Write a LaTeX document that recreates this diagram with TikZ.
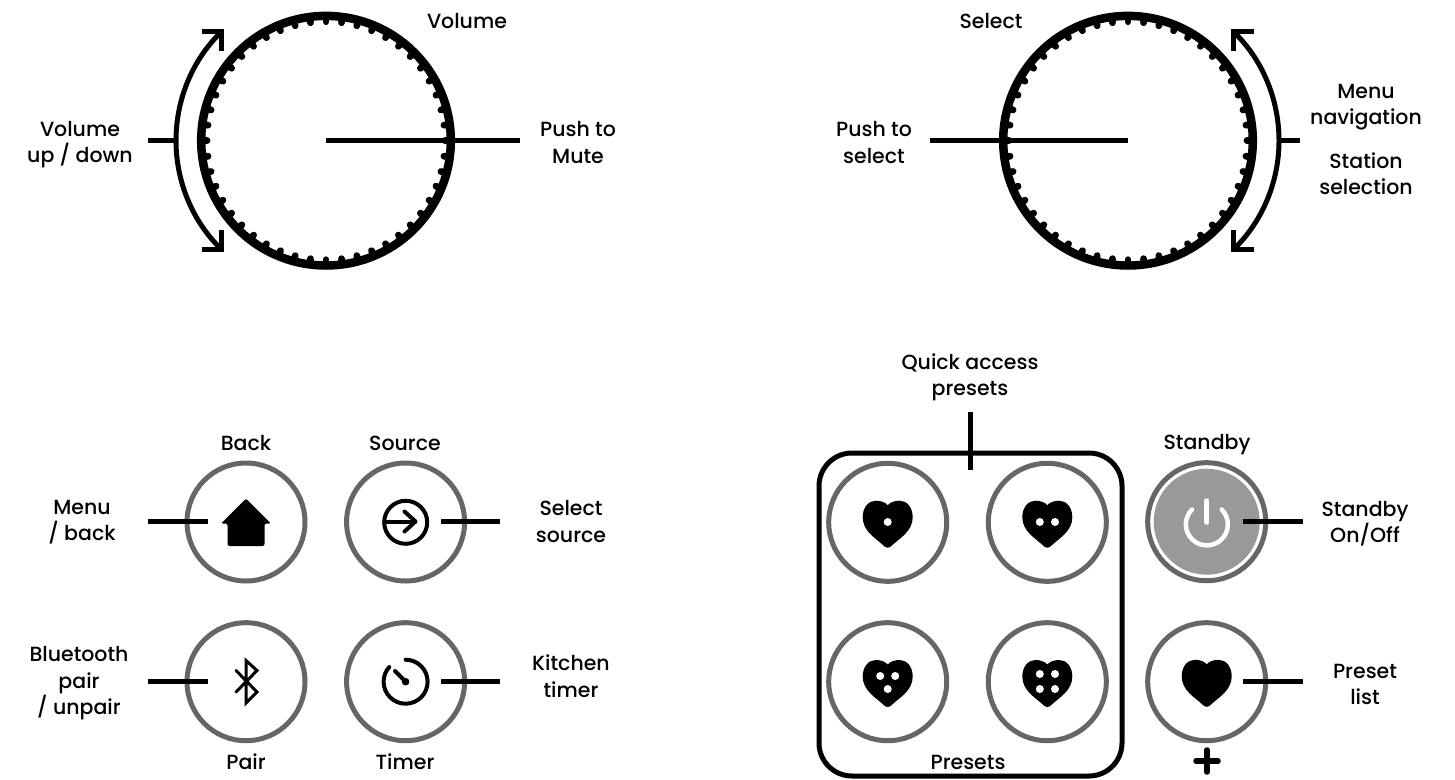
\documentclass[tikz,border=0pt]{standalone}
\usepackage{fontspec}
\setmainfont{Poppins Medium}
\definecolor{ringgray}{HTML}{666666}
\definecolor{fillgray}{HTML}{999999}
\tikzset{
  x=1pt,y=-1pt,
  lab/.style={align=center,inner sep=0pt,font=\fontsize{20.5}{26.5}\selectfont,text=black},
  lead/.style={line width=5pt,black},
  btn/.style={circle,draw=ringgray,line width=5pt,minimum size=118pt,inner sep=0pt},
  ringk/.style={line width=8.5pt,black},
  icon/.style={line width=4pt,black,line cap=round,line join=round},
  chev/.style={line width=5.5pt,black,miter limit=10},
  heartshape/.pic={\fill[black] (0,23.5)
    .. controls (-2,23.5) and (-3,22.5) .. (-4.5,21)
    .. controls (-12,14) and (-25,7) .. (-25,-7)
    .. controls (-25,-17) and (-19,-23.5) .. (-12,-23.5)
    .. controls (-7,-23.5) and (-2.5,-22) .. (0,-19)
    .. controls (2.5,-22) and (7,-23.5) .. (12,-23.5)
    .. controls (19,-23.5) and (25,-17) .. (25,-7)
    .. controls (25,7) and (12,14) .. (4.5,21)
    .. controls (3,22.5) and (2,23.5) .. (0,23.5) -- cycle;},
  hole/.style={circle,fill=white,minimum size=8pt,inner sep=0pt}
}
\newcommand{\dialring}[2]{%
  \draw[ringk] (#1,#2) circle[radius=124.8];
  \foreach \a in {0,7.5,...,352.5}
    \draw[black,line width=6.8pt,line cap=round] ({#1+122*cos(\a)},{#2+122*sin(\a)}) -- ({#1+119*cos(\a)},{#2+119*sin(\a)});
}
\begin{document}
\begin{tikzpicture}
\useasboundingbox (0,0) rectangle (1455,779);
\fill[white] (0,0) rectangle (1455,779);

% ---- dial left
\coordinate (volc) at (326,140.7);
\dialring{326}{140.7}
\coordinate (voltop) at (221.5,31.7);
\coordinate (volbot) at (221.5,249.5);
\coordinate (vs2) at (176,140.7);
\draw[line width=5pt,black] (voltop) .. controls (192,60) and (176,100) .. (vs2) .. controls (176,181) and (192,221) .. (volbot);
\draw[chev] (201.5,31.7) -- (voltop) -- (221.5,51);
\draw[chev] (201.5,249.5) -- (volbot) -- (221.5,230);
\coordinate (vs1) at (148,140.7);
\draw[lead] (vs1) -- (vs2);
\coordinate (ve) at (520,140.7);
\draw[lead] (volc) -- (ve);

% ---- dial right
\coordinate (selc) at (1128,140.7);
\dialring{1128}{140.7}
\coordinate (seltop) at (1233.5,31.7);
\coordinate (selbot) at (1233.5,249.5);
\coordinate (ss1) at (1279,140.7);
\draw[line width=5pt,black] (seltop) .. controls (1263,60) and (1279,100) .. (ss1) .. controls (1279,181) and (1263,221) .. (selbot);
\draw[chev] (1253.5,31.7) -- (seltop) -- (1233.5,51);
\draw[chev] (1253.5,249.5) -- (selbot) -- (1233.5,230);
\coordinate (ss2) at (1300,140.7);
\draw[lead] (ss1) -- (ss2);
\coordinate (se) at (930,140.7);
\draw[lead] (se) -- (selc);

% ---- left buttons
\node[btn] (back) at (246,522) {};
\node[btn] (source) at (405.6,522) {};
\node[btn] (pair) at (246,681.7) {};
\node[btn] (timer) at (405.6,681.7) {};

% home
\fill[black,rounded corners=2pt] (246,498.5) -- (271,523.5) -- (264.5,523.5) -- (264.5,546) -- (227.5,546) -- (227.5,523.5) -- (221,523.5) -- cycle;
% source icon
\draw[icon] (405.7,522.3) circle[radius=21.5];
\draw[icon] (384.5,521.5) -- (415,521.5);
\draw[icon] (404.5,511.5) -- (415.5,521.5) -- (404.5,531.5);
% bluetooth
\draw[line width=3pt,black,line join=miter,line cap=round] (236,670.5) -- (257,692) -- (246,703) -- (246,660.5) -- (257,670.5) -- (236,692);
% timer
\draw[icon] (405.6,659.7) arc[start angle=-90,end angle=222,radius=22];
\draw[icon] (405.6,681.7) -- (395,671);
\fill[black] (405.6,681.7) circle[radius=3.8];

% leads
\coordinate (l1) at (148,521); \coordinate (l1e) at (208,521);
\draw[lead] (l1) -- (l1e);
\coordinate (l2) at (441,521); \coordinate (l2e) at (500,521);
\draw[lead] (l2) -- (l2e);
\coordinate (l3) at (148,681); \coordinate (l3e) at (208,681);
\draw[lead] (l3) -- (l3e);
\coordinate (l4) at (441,681); \coordinate (l4e) at (500,681);
\draw[lead] (l4) -- (l4e);

% ---- preset box
\draw[line width=5pt,black,rounded corners=33pt] (819,453) rectangle (1122,776);
\node[btn] (p1) at (887.7,522.3) {};
\node[btn] (p2) at (1047.3,522.3) {};
\node[btn] (p3) at (887.7,681.7) {};
\node[btn] (p4) at (1047.3,681.7) {};
\pic at (887.7,524.2) {heartshape};
\pic at (1047.3,524.2) {heartshape};
\pic at (887.7,683.5) {heartshape};
\pic at (1047.3,683.5) {heartshape};
\node[hole] (h1) at (887.7,522) {};
\node[hole] (h2a) at (1039.8,522) {};
\node[hole] (h2b) at (1055,522) {};
\node[hole] (h3a) at (880.2,676) {};
\node[hole] (h3b) at (895.2,676) {};
\node[hole] (h3c) at (887.7,689) {};
\node[hole] (h4a) at (1039.8,674) {};
\node[hole] (h4b) at (1055,674) {};
\node[hole] (h4c) at (1039.8,689) {};
\node[hole] (h4d) at (1055,689) {};
\coordinate (q1) at (970.5,412); \coordinate (q2) at (970.5,470);
\draw[lead] (q1) -- (q2);

% ---- standby and preset list
\node[btn,fill=white] (standby) at (1206.7,521.7) {};
\fill[fillgray] (1206.7,521.7) circle[radius=53];
\draw[white,line width=4.5pt,line cap=round] (1192,509.5) arc[start angle=-135,end angle=-405,radius=21];
\draw[white,line width=4.5pt,line cap=round] (1206.7,500.5) -- (1206.7,522.5);
\node[btn] (plist) at (1206.7,681.7) {};
\pic at (1206.7,683.3) {heartshape};
\draw[black,line width=5.5pt,line cap=round] (1196,761) -- (1218,761) (1207,750) -- (1207,772);
\coordinate (l5) at (1243,521); \coordinate (l5e) at (1303,521);
\draw[lead] (l5) -- (l5e);
\coordinate (l6) at (1243,681); \coordinate (l6e) at (1303,681);
\draw[lead] (l6) -- (l6e);

% ---- labels
\node[lab] (t1) at (467,21) {Volume};
\node[lab] (t2) at (80,144.5) {Volume\\up / down};
\node[lab] (t3) at (578,142.5) {Push to\\Mute};
\node[lab] (t4) at (991,21) {Select};
\node[lab] (t5) at (874,142.5) {Push to\\select};
\node[lab] (t6) at (1366,107) {Menu\\navigation};
\node[lab] (t7) at (1366,173.5) {Station\\selection};
\node[lab] (t8) at (970,377.5) {Quick access\\presets};
\node[lab] (t9) at (246,443) {Back};
\node[lab] (t10) at (405,443) {Source};
\node[lab] (t11) at (1207,445) {Standby};
\node[lab] (t12) at (82,522) {Menu\\/ back};
\node[lab] (t13) at (571,521.5) {Select\\source};
\node[lab] (t14) at (1365,523.5) {Standby\\On/Off};
\node[lab] (t15) at (79,683.5) {Bluetooth\\pair\\/ unpair};
\node[lab] (t16) at (571,676) {Kitchen\\timer};
\node[lab] (t17) at (1365,684.5) {Preset\\list};
\node[lab] (t18) at (246,762) {Pair};
\node[lab] (t19) at (405,762) {Timer};
\node[lab] (t20) at (968,762) {Presets};
\end{tikzpicture}
\end{document}
